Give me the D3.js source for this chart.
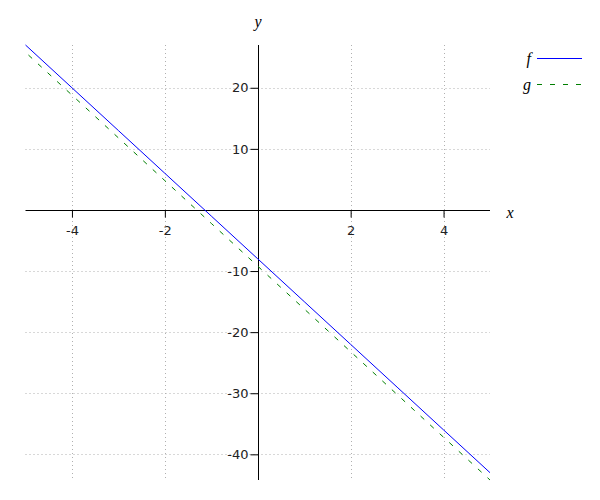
<!DOCTYPE html>
<html><head><meta charset="utf-8">
<script src="https://cdn.jsdelivr.net/npm/d3@7"></script>
<style>body{margin:0;background:#fff}svg{display:block}</style>
</head><body>
<script>
const xValues = [-5, -4, -3, -2, -1, 0, 1, 2, 3, 4, 5];
const fValues = [27, 20, 13, 6, -1, -8, -15, -22, -29, -36, -43];
const gValues = [25.8, 18.8, 11.8, 4.8, -2.2, -9.2, -16.2, -23.2, -30.2, -37.2, -44.2];
const xTicks = [-4, -2, 2, 4];
const yTicks = [20, 10, -10, -20, -30, -40];
const seriesNames = ["f", "g"];
const seriesColors = ["#0000ff", "#007f00"];

const W = 600, H = 500;
const svg = d3.select("body").append("svg").attr("width", W).attr("height", H);

const x = d3.scaleLinear().domain([-5, 5]).range([25.5, 490]);
const allY = fValues.concat(gValues);
const y = d3.scaleLinear().domain([d3.min(allY), d3.max(allY)]).range([480, 45]);
const fmt = d => String(d);

const grid = svg.append("g").attr("stroke", "#b0b0b0").attr("stroke-dasharray", "1,3").attr("stroke-width", 1);
grid.selectAll("line.v").data(xTicks).join("line")
  .attr("x1", d => Math.round(x(d)) + 0.5).attr("x2", d => Math.round(x(d)) + 0.5)
  .attr("y1", y.range()[1]).attr("y2", y.range()[0]);
grid.selectAll("line.h").data(yTicks).join("line")
  .attr("y1", d => Math.round(y(d)) + 0.5).attr("y2", d => Math.round(y(d)) + 0.5)
  .attr("x1", x.range()[0]).attr("x2", x.range()[1]);

const x0 = Math.round(x(0)) + 0.5, y0 = Math.round(y(0)) + 0.5;

// x axis
const xAxis = svg.append("g").attr("transform", `translate(0,${y0})`)
  .call(d3.axisBottom(x).tickValues(xTicks).tickSize(7).tickPadding(8).tickFormat(fmt));
xAxis.select(".domain").attr("d", `M${x.range()[0]},0H${x.range()[1]}`);
// y axis
const yAxis = svg.append("g").attr("transform", `translate(${x0},0)`)
  .call(d3.axisLeft(y).tickValues(yTicks).tickSize(8).tickPadding(2).tickFormat(fmt));
yAxis.select(".domain").attr("d", `M0,${y.range()[1]}V${y.range()[0]}`);
svg.selectAll(".tick text").attr("font-family", "DejaVu Sans, sans-serif").attr("font-size", 13).attr("fill", "#222");
svg.selectAll(".domain, .tick line").attr("stroke", "#000");

// lines
const line = d3.line().x((d, i) => x(xValues[i])).y(d => y(d));
svg.append("path").datum(fValues).attr("d", line).attr("fill", "none")
  .attr("stroke", seriesColors[0]).attr("stroke-width", 1);
svg.append("path").datum(gValues).attr("d", line).attr("fill", "none")
  .attr("stroke", seriesColors[1]).attr("stroke-width", 1).attr("stroke-dasharray", "5,8").attr("stroke-dashoffset", -4);

// axis labels
svg.append("text").attr("x", 510).attr("y", 218).text("x")
  .attr("font-family", "Liberation Serif, serif").attr("font-style", "italic").attr("font-size", 16).attr("text-anchor", "middle");
svg.append("text").attr("x", 258).attr("y", 27).text("y")
  .attr("font-family", "Liberation Serif, serif").attr("font-style", "italic").attr("font-size", 16).attr("text-anchor", "middle");

// legend
const leg = svg.append("g");
seriesNames.forEach((name, i) => {
  const ly = 58.5 + i * 26;
  leg.append("text").attr("x", 531).attr("y", ly + 5).text(name).attr("text-anchor", "end")
    .attr("font-family", "Liberation Serif, serif").attr("font-style", "italic").attr("font-size", 16);
  leg.append("line").attr("x1", 537).attr("x2", 582).attr("y1", ly).attr("y2", ly)
    .attr("stroke", seriesColors[i]).attr("stroke-width", 1)
    .attr("stroke-dasharray", i === 1 ? "5,8" : null);
});
</script>
</body></html>
